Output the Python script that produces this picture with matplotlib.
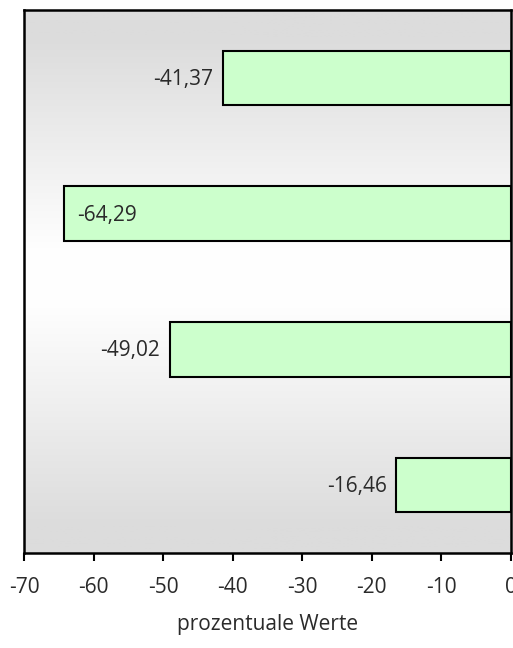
import matplotlib
matplotlib.use("Agg")
import matplotlib.pyplot as plt
import numpy as np
from matplotlib.colors import LinearSegmentedColormap

plt.rcParams['font.family'] = ['Open Sans', 'DejaVu Sans']

categories = ["A", "B", "C", "D"]
values = [-41.37, -64.29, -49.02, -16.46]
labels = ["-41,37", "-64,29", "-49,02", "-16,46"]
xticks = [-70, -60, -50, -40, -30, -20, -10, 0]
xlabel = "prozentuale Werte"

FS = 15

fig = plt.figure(figsize=(5.13, 6.48), dpi=100)
ax = fig.add_axes([24/513, 1 - 553/648, 487/513, 543/648])

# background gradient
cmap = LinearSegmentedColormap.from_list("bg", [(0, "#dcdcdc"), (0.05, "#dcdcdc"), (0.45, "#ffffff"), (0.55, "#fefefe"), (0.95, "#dcdcdc"), (1, "#dcdcdc")])
grad = np.linspace(0, 1, 256).reshape(-1, 1)
ax.imshow(grad, aspect="auto", cmap=cmap, extent=[-70, 0, 3.5, -0.5], zorder=0)

y = np.arange(len(categories))
ax.barh(y, values, height=0.4, color="#ccffcc", edgecolor="black", linewidth=1.5, zorder=2)

for yi, v, lab in zip(y, values, labels):
    if v < -55:
        ax.annotate(lab, (v, yi), xytext=(10, -1), textcoords="offset points",
                    ha="left", va="center", fontsize=FS, color="#2a2a2a", zorder=3)
    else:
        ax.annotate(lab, (v, yi), xytext=(-7, -1), textcoords="offset points",
                    ha="right", va="center", fontsize=FS, color="#2a2a2a", zorder=3)

ax.set_xlim(-70, 0)
ax.set_ylim(3.5, -0.5)
ax.set_yticks([])
ax.set_xticks(xticks)
ax.set_xticklabels([str(t) for t in xticks], fontsize=FS, color="#2a2a2a")
ax.tick_params(axis="x", direction="out", length=6, width=1.5, pad=11)
for s in ax.spines.values():
    s.set_linewidth(1.8)
    s.set_color("black")
ax.set_xlabel(xlabel, fontsize=FS, color="#2a2a2a", labelpad=12)

fig.savefig("out.png", dpi=100)
